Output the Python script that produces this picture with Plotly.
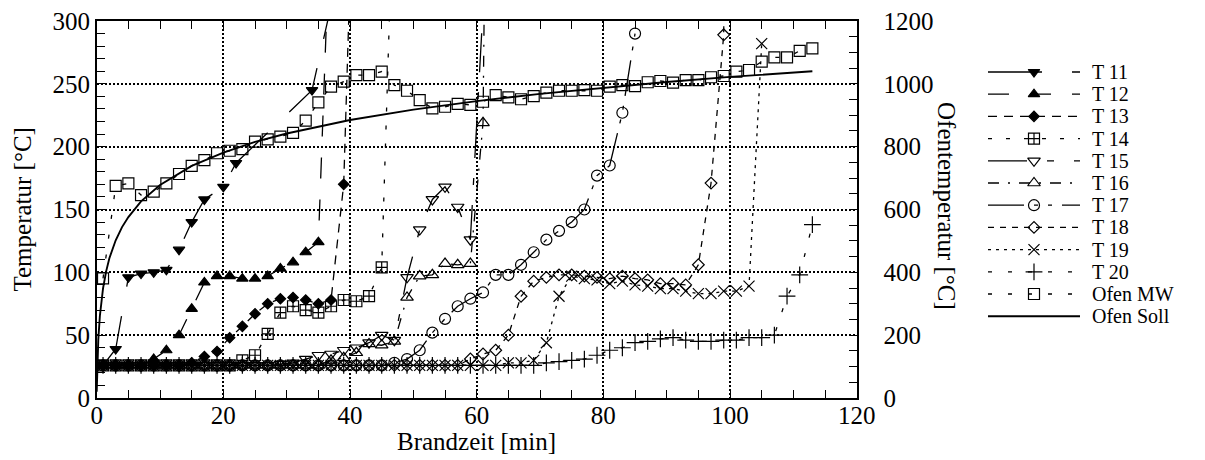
import plotly.graph_objects as go

W, H = 1205, 460
FONT = "Liberation Serif"

# Thermocouple readings: time [min] and temperature [°C]
t11 = [1, 3, 5, 7, 9, 11, 13, 15, 17, 20, 22, 34, 37]
v11 = [26, 39, 96, 99, 100, 102, 118, 140, 158, 168, 187, 245, 312]

t12 = [1, 3, 5, 7, 9, 11, 13, 15, 17, 19, 21, 23, 25, 27, 29, 31, 33, 35, 37]
v12 = [26, 26, 26, 26, 31, 38, 50, 71, 92, 97, 97, 95, 95, 97, 103, 108, 116, 124, 400]

t13 = [1, 3, 5, 7, 9, 11, 13, 15, 17, 19, 21, 23, 25, 27, 29, 31, 33, 35, 37, 39, 41]
v13 = [26, 26, 26, 26, 26, 26, 26, 28, 33, 37, 48, 57, 67, 75, 79, 80, 78, 75, 78, 170, 500]

t14 = [1, 3, 5, 7, 9, 11, 13, 15, 17, 19, 21, 23, 25, 27, 29, 31, 33, 35, 37, 39, 41,
       43, 45, 47]
v14 = [26, 26, 26, 26, 26, 26, 26, 26, 26, 26, 26, 30, 34, 51, 68, 73, 70, 68, 73, 78, 77,
       81, 104, 430]

t15 = [1, 3, 5, 7, 9, 11, 13, 15, 17, 19, 21, 23, 25, 27, 29, 31, 33, 35, 37, 39, 41,
       43, 45, 47, 49, 51, 53, 55, 57, 59, 61]
v15 = [26, 26, 26, 26, 26, 26, 26, 26, 26, 26, 26, 26, 26, 26, 27, 28, 31, 34, 35, 38, 40,
       44, 50, 46, 96, 134, 158, 168, 152, 126, 310]

t16 = [1, 3, 5, 7, 9, 11, 13, 15, 17, 19, 21, 23, 25, 27, 29, 31, 33, 35, 37, 39, 41,
       43, 45, 47, 49, 51, 53, 55, 57, 59, 61, 63]
v16 = [26, 26, 26, 26, 26, 26, 26, 26, 26, 26, 26, 26, 26, 26, 26, 26, 26, 26, 30, 32, 36,
       43, 42, 45, 80, 97, 98, 107, 106, 107, 219, 1200]

t17 = [1, 3, 5, 7, 9, 11, 13, 15, 17, 19, 21, 23, 25, 27, 29, 31, 33, 35, 37, 39, 41,
       43, 45, 47, 49, 51, 53, 55, 57, 59, 61, 63, 65, 67, 69, 71, 73, 75, 77, 79, 81,
       83, 85]
v17 = [26, 26, 26, 26, 26, 26, 26, 26, 26, 26, 26, 26, 26, 26, 26, 26, 26, 26, 26, 26, 26,
       26, 26, 28, 31, 38, 52, 63, 73, 79, 84, 98, 98, 106, 116, 126, 133, 140, 150, 177, 185,
       227, 290]

t18 = [1, 3, 5, 7, 9, 11, 13, 15, 17, 19, 21, 23, 25, 27, 29, 31, 33, 35, 37, 39, 41,
       43, 45, 47, 49, 51, 53, 55, 57, 59, 61, 63, 65, 67, 69, 71, 73, 75, 77, 79, 81,
       83, 85, 87, 89, 91, 93, 95, 97, 99, 101]
v18 = [26, 26, 26, 26, 26, 26, 26, 26, 26, 26, 26, 26, 26, 26, 26, 26, 26, 26, 26, 26, 26,
       26, 26, 26, 26, 26, 26, 26, 26, 31, 35, 38, 50, 81, 93, 96, 98, 98, 97, 96, 95,
       97, 95, 94, 91, 91, 90, 106, 171, 289, 1500]

t19 = [1, 3, 5, 7, 9, 11, 13, 15, 17, 19, 21, 23, 25, 27, 29, 31, 33, 35, 37, 39, 41,
       43, 45, 47, 49, 51, 53, 55, 57, 59, 61, 63, 65, 67, 69, 71, 73, 75, 77, 79, 81,
       83, 85, 87, 89, 91, 93, 95, 97, 99, 101, 103, 105]
v19 = [26, 26, 26, 26, 26, 26, 26, 26, 26, 26, 26, 26, 26, 26, 26, 26, 26, 26, 26, 26, 26,
       26, 26, 26, 26, 26, 26, 26, 26, 26, 26, 26, 28, 28, 30, 44, 81, 97, 95, 94, 91,
       93, 90, 89, 87, 87, 85, 83, 83, 85, 85, 89, 282]

t20 = [1, 3, 5, 7, 9, 11, 13, 15, 17, 19, 21, 23, 25, 27, 29, 31, 33, 35, 37, 39, 41,
       43, 45, 47, 49, 51, 53, 55, 57, 59, 61, 63, 65, 67, 69, 71, 73, 75, 77, 79, 81,
       83, 85, 87, 89, 91, 93, 95, 97, 99, 101, 103, 105, 107, 109, 111, 113]
v20 = [26, 26, 26, 26, 26, 26, 26, 26, 26, 26, 26, 26, 26, 26, 26, 26, 26, 26, 26, 26, 26,
       26, 26, 26, 26, 26, 26, 26, 26, 26, 26, 26, 26, 26, 26, 28, 29, 30, 31, 34, 38,
       40, 44, 45, 47, 48, 46, 45, 45, 46, 46, 48, 48, 50, 81, 98, 138]

# Furnace temperature [°C] (right axis): measured and nominal
t_mw = [1, 3, 5, 7, 9, 11, 13, 15, 17, 19, 21, 23, 25, 27, 29, 31, 33, 35, 37, 39, 41,
        43, 45, 47, 49, 51, 53, 55, 57, 59, 61, 63, 65, 67, 69, 71, 73, 75, 77, 79, 81,
        83, 85, 87, 89, 91, 93, 95, 97, 99, 101, 103, 105, 107, 109, 111, 113]
v_mw = [381, 675, 683, 646, 657, 683, 713, 739, 757, 779, 787, 792, 816, 823, 832, 844,
        883, 941, 991, 1007, 1028, 1028, 1039, 996, 978, 948, 922, 927, 936, 933, 943,
        964, 957, 951, 961, 972, 978, 978, 980, 978, 991, 996, 993, 1005, 1009, 1004,
        1012, 1012, 1021, 1025, 1039, 1044, 1071, 1084, 1084, 1105, 1113]

t_soll = [0, 0.1, 0.25, 0.5, 1, 1.5, 2, 3, 4, 5, 7, 10, 15, 20, 25, 30, 40, 50, 60, 70,
          80, 90, 100, 113]
v_soll = [20, 108, 185, 261, 349, 404, 445, 502, 544, 576, 626, 678, 739, 781, 815, 842,
          885, 918, 945, 968, 988, 1006, 1022, 1040]

SERIES = [
    ("T 11", t11, v11, "y"),
    ("T 12", t12, v12, "y"),
    ("T 13", t13, v13, "y"),
    ("T 14", t14, v14, "y"),
    ("T 15", t15, v15, "y"),
    ("T 16", t16, v16, "y"),
    ("T 17", t17, v17, "y"),
    ("T 18", t18, v18, "y"),
    ("T 19", t19, v19, "y"),
    ("T 20", t20, v20, "y"),
    ("Ofen MW", t_mw, v_mw, "y2"),
    ("Ofen Soll", t_soll, v_soll, "y2"),
]

STYLE = {
    "T 11": dict(symbol="triangle-down", size=10, dash="54px,30px"),
    "T 12": dict(symbol="triangle-up", size=10, dash="21px,21px"),
    "T 13": dict(symbol="diamond", size=8, dash="9px,7px"),
    "T 14": dict(symbol="square-cross-open", size=11, dash="4px,14px"),
    "T 15": dict(symbol="triangle-down-open", size=11, dash="39px,20px,7px,20px"),
    "T 16": dict(symbol="triangle-up-open", size=11, dash="11px,9px,2px,9px"),
    "T 17": dict(symbol="circle-open", size=11, dash="36px,10px,4px,10px,4px,10px"),
    "T 18": dict(symbol="diamond-open", size=9, dash="6px,6px"),
    "T 19": dict(symbol="x-thin-open", size=11, dash="3px,5px"),
    "T 20": dict(symbol="cross-thin-open", size=12, dash="4px,16px"),
    "Ofen MW": dict(symbol="square-open", size=11, dash="4px,16px"),
    "Ofen Soll": dict(symbol=None, size=0, dash="solid"),
}

# plot frame in pixels
X0, X1 = 96.7, 856.7
Y_TOP, Y_BOT = 21.0, 398.0

fig = go.Figure()

for name, t, v, ax in SERIES:
    st = STYLE[name]
    has_marker = st["symbol"] is not None
    fig.add_trace(go.Scatter(
        x=t, y=v, xaxis="x", yaxis=ax,
        mode="lines+markers" if has_marker else "lines",
        line=dict(color="black", width=1.9 if not has_marker else 1.3, dash=st["dash"]),
        marker=dict(symbol=st["symbol"] or "circle", size=st["size"], color="black",
                    line=dict(color="black", width=1.2)),
        showlegend=False, hoverinfo="skip",
    ))

# hand-built key to the right of the frame (pixel coordinates on x3/y3)
ROW0, ROW_STEP = 72.0, 22.2
LINE_L, LINE_R, MARK_X, TEXT_X = 988, 1080, 1034, 1090
KEY_FONT = 20
annotations = []
for i, (name, _, _, _) in enumerate(SERIES):
    st = STYLE[name]
    ry = ROW0 + ROW_STEP * i
    fig.add_trace(go.Scatter(
        x=[LINE_L, LINE_R], y=[ry, ry], xaxis="x3", yaxis="y3", mode="lines",
        line=dict(color="black", width=1.9 if st["symbol"] is None else 1.3, dash=st["dash"]),
        showlegend=False, hoverinfo="skip", cliponaxis=False,
    ))
    if st["symbol"] is not None:
        fig.add_trace(go.Scatter(
            x=[MARK_X], y=[ry], xaxis="x3", yaxis="y3", mode="markers",
            marker=dict(symbol=st["symbol"], size=st["size"], color="black",
                        line=dict(color="black", width=1.2)),
            showlegend=False, hoverinfo="skip", cliponaxis=False,
        ))
    annotations.append(dict(
        x=TEXT_X, y=ry, xref="x3", yref="y3", text=name, showarrow=False,
        xanchor="left", yanchor="middle",
        font=dict(family=FONT, size=KEY_FONT, color="black"),
    ))

# axis titles
annotations += [
    dict(x=(X0 + X1) / 2 / W, y=1 - 441 / H, xref="paper", yref="paper",
         text="Brandzeit [min]", showarrow=False, xanchor="center", yanchor="middle",
         font=dict(family=FONT, size=25, color="black")),
    dict(x=22 / W, y=1 - 209.5 / H, xref="paper", yref="paper",
         text="Temperatur [°C]", textangle=-90, showarrow=False,
         xanchor="center", yanchor="middle", font=dict(family=FONT, size=25, color="black")),
    dict(x=947 / W, y=1 - 206 / H, xref="paper", yref="paper",
         text="Ofentemperatur [°C]", textangle=90, showarrow=False,
         xanchor="center", yanchor="middle", font=dict(family=FONT, size=25, color="black")),
]

tickfont = dict(family=FONT, size=25, color="black")
grid = dict(showgrid=True, gridcolor="black", gridwidth=1.5, griddash="2px,2px")

fig.update_layout(
    width=W, height=H, autosize=False,
    margin=dict(l=0, r=0, t=0, b=0, pad=0, autoexpand=False),
    paper_bgcolor="white", plot_bgcolor="rgba(0,0,0,0)",
    font=dict(family=FONT, size=25, color="black"),
    showlegend=False,
    annotations=annotations,
    xaxis=dict(
        domain=[X0 / W, X1 / W], range=[0, 120], tick0=0, dtick=20,
        ticks="inside", ticklen=8, tickwidth=1.3, tickcolor="black",
        minor=dict(dtick=5, ticks="inside", ticklen=8, tickwidth=1.3, tickcolor="black",
                   showgrid=False),
        showline=True, linecolor="black", linewidth=1.6, mirror="ticks",
        zeroline=False, tickfont=tickfont, anchor="y", automargin=False,
        ticklabelstandoff=-6, **grid,
    ),
    yaxis=dict(
        domain=[1 - Y_BOT / H, 1 - Y_TOP / H], range=[0, 300], tick0=0, dtick=50,
        ticks="inside", ticklen=8, tickwidth=1.3, tickcolor="black",
        minor=dict(dtick=10, ticks="inside", ticklen=8, tickwidth=1.3, tickcolor="black",
                   showgrid=False),
        showline=True, linecolor="black", linewidth=1.6, mirror=False,
        zeroline=False, tickfont=tickfont, anchor="x", automargin=False, **grid,
    ),
    yaxis2=dict(
        overlaying="y", side="right", anchor="x", range=[0, 1200], tick0=0, dtick=200,
        ticks="inside", ticklen=8, tickwidth=1.3, tickcolor="black",
        minor=dict(dtick=50, ticks="inside", ticklen=8, tickwidth=1.3, tickcolor="black",
                   showgrid=False),
        showline=True, linecolor="black", linewidth=1.6, showgrid=False,
        zeroline=False, tickfont=tickfont, ticklabelstandoff=20, automargin=False,
    ),
    xaxis3=dict(domain=[960 / W, 1], range=[960, W], visible=False, fixedrange=True,
                anchor="y3"),
    yaxis3=dict(domain=[0, 1], range=[H, 0], visible=False, fixedrange=True,
                anchor="x3"),
)

fig.write_html("out.html")
